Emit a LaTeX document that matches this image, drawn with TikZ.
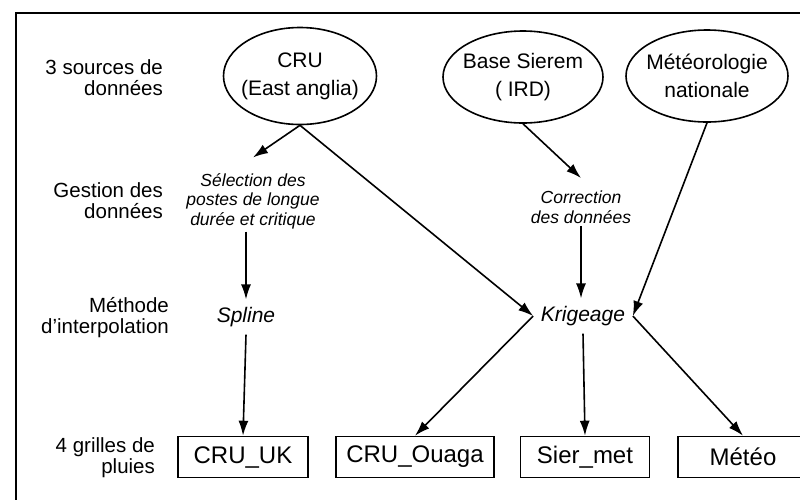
\documentclass[tikz,border=0pt]{standalone}
\usepackage{fontspec}
\setmainfont{Liberation Sans}
\usepackage{tikz}
\usetikzlibrary{shapes, arrows.meta}
\tikzstyle{source} = [draw, ellipse, align=center, inner xsep=-6pt, inner ysep=0pt, font=\fontsize{21}{28}\selectfont]
\tikzstyle{grille} = [draw, rectangle, minimum height=41pt, inner sep=0pt, font=\fontsize{24}{28}\selectfont]
\tikzstyle{etape} = [align=center, inner sep=2pt, font=\fontsize{17.5}{19.5}\selectfont\itshape]
\tikzstyle{methode} = [inner sep=7pt, font=\fontsize{21}{24}\selectfont\itshape]
\tikzstyle{niveau} = [align=right, anchor=east, font=\fontsize{20.5}{21}\selectfont]

\begin{document}
\begin{tikzpicture}[x=1pt, y=-1pt, >={Latex[length=15pt,width=10pt]}, line width=1.6pt]
    \useasboundingbox (0,0) rectangle (800,499);
    \clip (0,0) rectangle (800,499);
    \draw (16,13) rectangle (830,530);

    % niveaux
    \node [niveau] (niv1) at (167,78) {3 sources de\\données};
    \node [niveau] (niv2) at (167,201) {Gestion des\\données};
    \node [niveau] (niv3) at (173,318) {Méthode\\d'interpolation};
    \node [niveau] (niv4) at (159,458) {4 grilles de\\pluies};

    % sources
    \node [source, minimum width=153pt, minimum height=97pt] (cru) at (300,76) {CRU\\(East anglia)};
    \node [source, minimum width=160pt, minimum height=92pt] (sierem) at (523,77) {Base Sierem\\( IRD)};
    \node [source, minimum width=162pt, minimum height=92pt] (meteo) at (707,76) {Météorologie\\nationale};

    % gestion et interpolation
    \node [etape] (sel) at (253,201) {Sélection des\\postes de longue\\durée et critique};
    \node [etape] (corr) at (581,207) {Correction\\des données};
    \node [methode] (spline) at (246,317) {Spline};
    \node [methode] (krig) at (583,316) {Krigeage};

    % grilles
    \node [grille, minimum width=130pt] (cruuk) at (243,457) {CRU\_UK};
    \node [grille, minimum width=158pt] (cruouaga) at (415,457) {CRU\_Ouaga};
    \node [grille, minimum width=129pt] (siermet) at (585,457) {Sier\_met};
    \node [grille, minimum width=130pt] (meteobox) at (743,457) {Météo};

    \draw [->] (cru.south) -- ([yshift=13pt]sel.north);
    \draw [->] (cru.south) -- (krig.west);
    \draw [->] (sierem.south) -- ([yshift=10pt]corr.north);
    \draw [->] (meteo.south) -- (krig.east);
    \draw [->] (spline.north |- sel.south) -- (spline.north);
    \draw [->] (corr.south) -- (corr.south |- krig.north);
    \draw [->] (spline.south) -- (cruuk.north);
    \draw [->] (krig.west) -- (cruouaga.north);
    \draw [->] (krig.south) -- (siermet.north);
    \draw [->] (krig.east) -- (meteobox.north);
\end{tikzpicture}
\end{document}
